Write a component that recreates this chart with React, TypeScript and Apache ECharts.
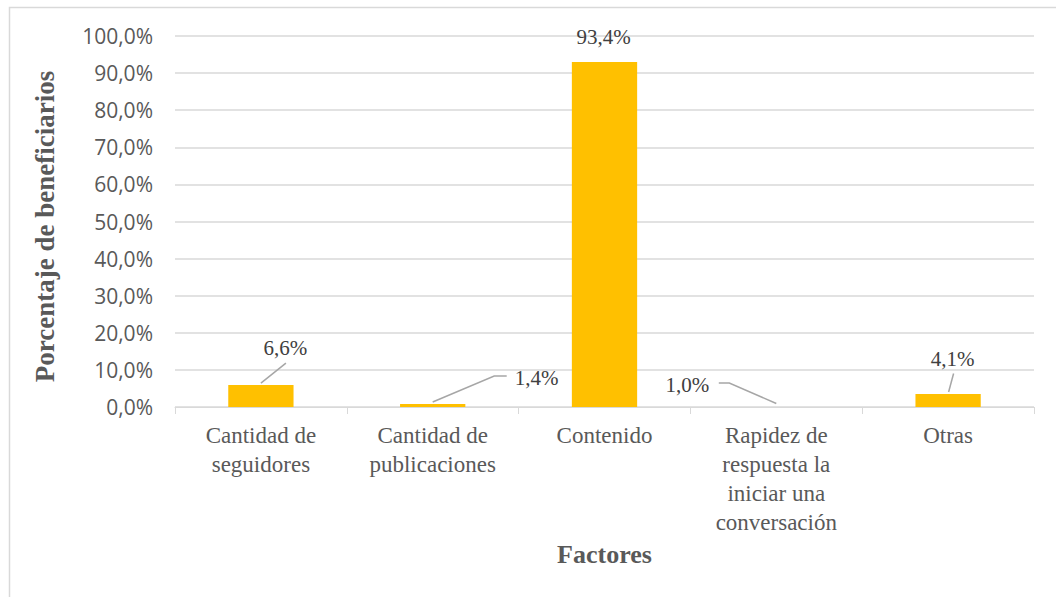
import React, { useEffect, useRef } from "react";
import * as echarts from "echarts";

const categories = [
  "Cantidad de\nseguidores",
  "Cantidad de\npublicaciones",
  "Contenido",
  "Rapidez de\nrespuesta la\niniciar una\nconversación",
  "Otras",
];
const barValues = [5.9, 0.8, 93.0, 0, 3.5];
const labelTexts = ["6,6%", "1,4%", "93,4%", "1,0%", "4,1%"];
const yMin = 0;
const yMax = 100;
const yInterval = 10;

// layout: label centre offset from bar top centre
const labelOffsets = [
  [24.5, -37],
  [104, -26],
  [-1, -25],
  [-89, -22],
  [4.5, -35],
];
// layout: leader line points relative to bar top centre
const leaderLines: (number[][] | null)[] = [
  [[0, -2], [25, -22]],
  [[0, -2], [61.5, -28], [74, -28]],
  null,
  [[-57.5, -24], [-47, -24], [0, -3.5]],
  [[0.5, -2], [5.5, -20.5]],
];

export default function App() {
  const ref = useRef<HTMLDivElement>(null);
  useEffect(() => {
    document.body.style.margin = "0";
    const chart = echarts.init(ref.current!, null, { renderer: "svg" });
    const serif = "'Liberation Serif', 'Times New Roman', serif";
    chart.setOption({
      animation: false,
      backgroundColor: "#ffffff",
      grid: { left: 175, right: 22, top: 36, bottom: 190, containLabel: false },
      xAxis: {
        type: "category",
        data: categories,
        name: "Factores",
        nameLocation: "middle",
        nameGap: 133,
        nameTextStyle: {
          fontFamily: serif,
          fontWeight: "bold",
          fontSize: 26,
          color: "#595959",
          verticalAlign: "top",
        },
        axisLine: { lineStyle: { color: "#d9d9d9", width: 1 } },
        axisTick: { show: true, length: 7, lineStyle: { color: "#d9d9d9" } },
        axisLabel: {
          interval: 0,
          margin: 14,
          fontFamily: serif,
          fontSize: 23,
          lineHeight: 29,
          color: "#595959",
        },
      },
      yAxis: {
        type: "value",
        min: yMin,
        max: yMax,
        interval: yInterval,
        name: "Porcentaje de beneficiarios",
        nameLocation: "middle",
        nameGap: 117,
        nameRotate: 90,
        nameTextStyle: {
          fontFamily: serif,
          fontWeight: "bold",
          fontSize: 27,
          color: "#595959",
          padding: [0, 10, 0, 0],
        },
        axisLine: { show: false },
        axisTick: { show: false },
        splitLine: { lineStyle: { color: "#d9d9d9", width: 1.5 } },
        axisLabel: {
          margin: 22,
          fontFamily: "'Open Sans', sans-serif",
          fontSize: 21,
          color: "#595959",
          formatter: (v: number) => v.toFixed(1).replace(".", ",") + "%",
        },
      },
      series: [
        {
          type: "bar",
          data: barValues,
          barWidth: "38%",
          itemStyle: { color: "#FFC000" },
          label: {
            show: true,
            position: "top",
            fontFamily: serif,
            fontSize: 21,
            color: "#404040",
            formatter: (p: any) => labelTexts[p.dataIndex],
          },
          labelLayout: (params: any) => {
            const r = params.rect;
            const o = labelOffsets[params.dataIndex];
            return {
              x: r.x + r.width / 2 + o[0],
              y: r.y + o[1],
              align: "center",
              verticalAlign: "middle",
            };
          },
        },
      ],
    });

    const graphics: any[] = [
      {
        type: "rect",
        silent: true,
        shape: { x: 9.5, y: 7.5, width: 1200, height: 800 },
        style: { fill: "none", stroke: "#d9d9d9", lineWidth: 1.5 },
        z: -1,
      },
    ];
    leaderLines.forEach((pts, i) => {
      if (!pts) return;
      const p = chart.convertToPixel({ seriesIndex: 0 }, [i, barValues[i]]) as number[];
      graphics.push({
        type: "polyline",
        silent: true,
        shape: { points: pts.map(([dx, dy]) => [p[0] + dx, p[1] + dy]) },
        style: { stroke: "#a6a6a6", lineWidth: 1.5, fill: null },
        z: 10,
      });
    });
    chart.setOption({ graphic: graphics });

    return () => chart.dispose();
  }, []);
  return <div ref={ref} style={{ width: 1056, height: 597 }} />;
}
